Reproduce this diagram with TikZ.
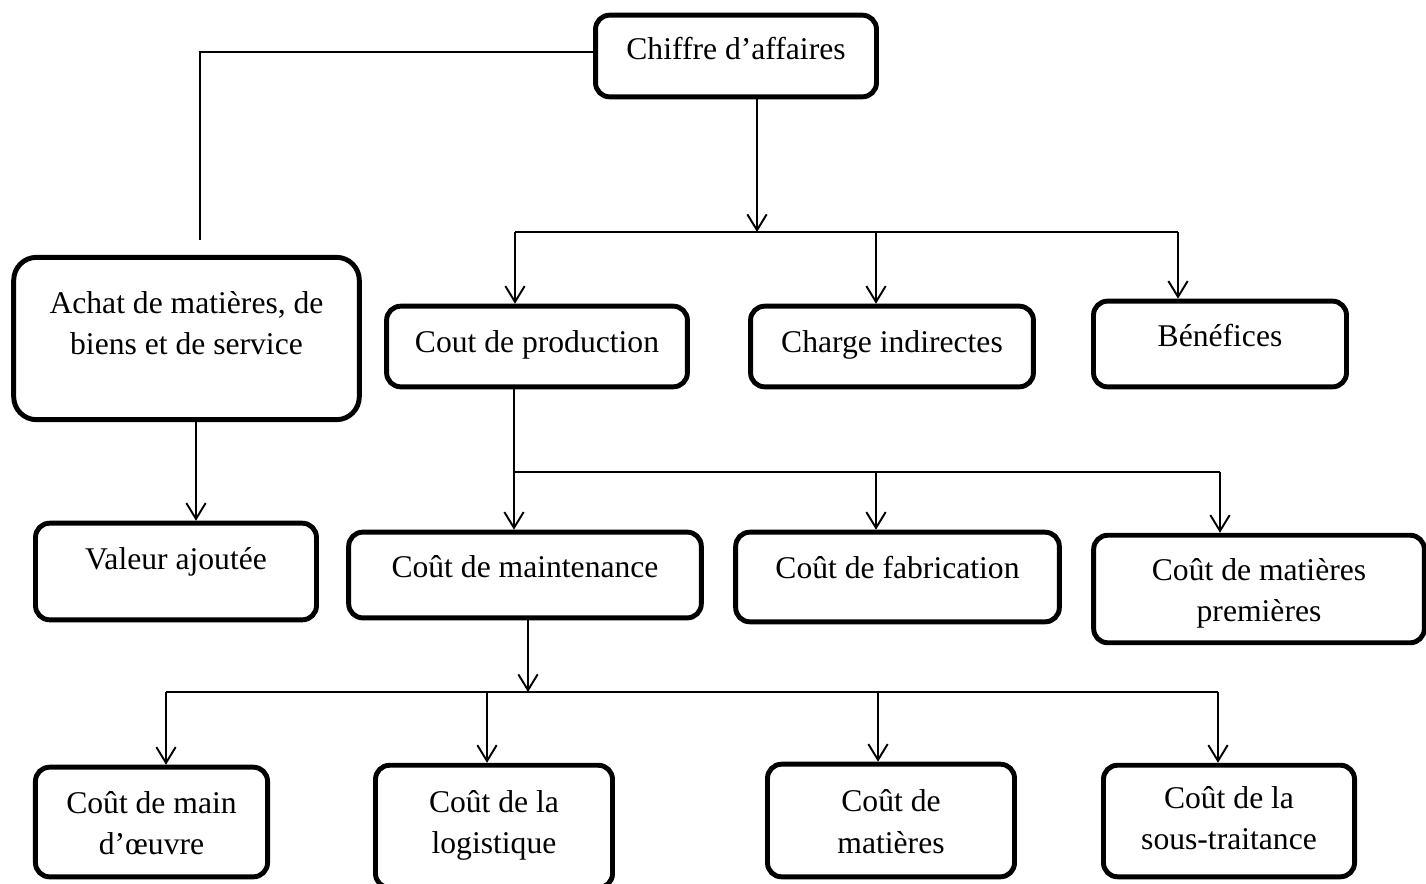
\documentclass[tikz,border=0pt]{standalone}
\usepackage{fontspec}
\setmainfont{Liberation Serif}
\usetikzlibrary{arrows.meta}

\begin{document}
\begin{tikzpicture}[
    x=0.02cm, y=-0.02cm,
    box/.style={draw, line width=2.8pt, rounded corners=8pt, inner sep=0pt,
      align=flush center, font=\fontsize{18pt}{23.8pt}\selectfont},
    conn/.style={line width=1.1pt},
    arr/.style={conn, -{Straight Barb[length=9pt, width=11pt]}}
  ]
  \useasboundingbox (0,0) rectangle (1426,883);

  % top level
  \node[box, minimum width=159.9pt, minimum height=46.5pt, text width=159.9pt,
        text height=25.5pt, text depth=21.0pt] (ca) at (736,56) {Chiffre d’affaires};

  % second level
  \node[box, rounded corners=13pt, minimum width=196.7pt, minimum height=92.4pt, text width=196.7pt,
        text height=31.7pt, text depth=60.7pt] (achat) at (186.5,338.5)
        {Achat de matières, de\\biens et de service};
  \node[box, minimum width=171.2pt, minimum height=45.9pt, text width=171.2pt,
        text height=26.1pt, text depth=19.8pt] (prod) at (537,346.5) {Cout de production};
  \node[box, minimum width=161.0pt, minimum height=45.9pt, text width=161.0pt,
        text height=26.1pt, text depth=19.8pt] (charge) at (892,346.5) {Charge indirectes};
  \node[box, minimum width=144.0pt, minimum height=48.8pt, text width=144.0pt,
        text height=26.1pt, text depth=22.7pt] (benef) at (1220,344) {Bénéfices};

  % third level
  \node[box, minimum width=159.9pt, minimum height=55.0pt, text width=159.9pt,
        text height=26.6pt, text depth=28.4pt] (va) at (176,571.5) {Valeur ajoutée};
  \node[box, minimum width=200.7pt, minimum height=48.8pt, text width=200.7pt,
        text height=26.1pt, text depth=22.7pt] (maint) at (525,575) {Coût de maintenance};
  \node[box, minimum width=184.2pt, minimum height=51.0pt, text width=184.2pt,
        text height=26.1pt, text depth=24.9pt] (fab) at (897.5,577) {Coût de fabrication};
  \node[box, minimum width=188.2pt, minimum height=61.2pt, text width=188.2pt,
        text height=25.5pt, text depth=35.7pt] (mp) at (1259,589) {Coût de matières\\premières};

  % fourth level
  \node[box, minimum width=132.1pt, minimum height=62.4pt, text width=132.1pt,
        text height=26.1pt, text depth=36.3pt] (mo) at (151.5,822) {Coût de main\\d’œuvre};
  \node[box, minimum width=134.9pt, minimum height=69.7pt, text width=134.9pt,
        text height=26.6pt, text depth=43.1pt] (log) at (494,826.5) {Coût de la\\logistique};
  \node[box, minimum width=140.6pt, minimum height=64.1pt, text width=140.6pt,
        text height=27.2pt, text depth=36.9pt] (mat) at (891,820.5) {Coût de\\matières};
  \node[box, minimum width=142.9pt, minimum height=63.5pt, text width=142.9pt,
        text height=24.4pt, text depth=39.1pt] (st) at (1229,821) {Coût de la\\sous-traitance};

  % link from the turnover box to the purchases box
  \coordinate (topl) at (200,52);
  \coordinate (achin) at (200,240);
  \draw[conn] (ca.west |- topl) -- (topl) -- (achin);

  % turnover split
  \coordinate (j1) at (757,232);
  \draw[arr] (ca.south -| j1) -- (j1);
  \coordinate (b1l) at (515,232);
  \coordinate (b1m) at (876,232);
  \coordinate (b1r) at (1178,232);
  \draw[conn] (b1l) -- (b1r);
  \draw[arr] (b1l) -- (b1l |- prod.north);
  \draw[arr] (b1m) -- (b1m |- charge.north);
  \draw[arr] (b1r) -- (b1r |- benef.north);

  % purchases to value added
  \coordinate (av) at (196,0);
  \draw[arr] (achat.south -| av) -- (va.north -| av);

  % production cost split
  \coordinate (pm) at (514,0);
  \draw[arr] (prod.south -| pm) -- (maint.north -| pm);
  \coordinate (b2l) at (514,472);
  \coordinate (b2m) at (876,472);
  \coordinate (b2r) at (1220,472);
  \draw[conn] (b2l) -- (b2r);
  \draw[arr] (b2m) -- (b2m |- fab.north);
  \draw[arr] (b2r) -- (b2r |- mp.north);

  % maintenance cost split
  \coordinate (j3) at (528,692);
  \draw[arr] (maint.south -| j3) -- (j3);
  \coordinate (b3a) at (166,692);
  \coordinate (b3b) at (487,692);
  \coordinate (b3c) at (878,692);
  \coordinate (b3d) at (1218,692);
  \draw[conn] (b3a) -- (b3d);
  \draw[arr] (b3a) -- (b3a |- mo.north);
  \draw[arr] (b3b) -- (b3b |- log.north);
  \draw[arr] (b3c) -- (b3c |- mat.north);
  \draw[arr] (b3d) -- (b3d |- st.north);
\end{tikzpicture}
\end{document}
